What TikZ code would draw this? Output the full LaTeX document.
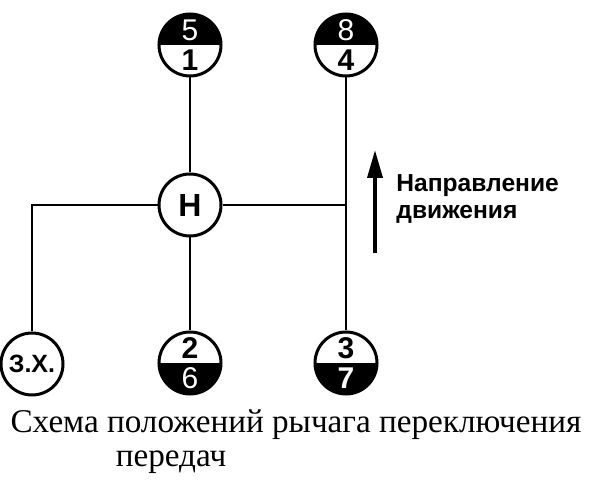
\documentclass[tikz,border=0pt]{standalone}
\usepackage{fontspec}
\setmainfont{Liberation Serif}
\setsansfont{Liberation Sans}
\usepackage{tikz}
\usetikzlibrary{calc,arrows.meta}
\tikzset{>=stealth}

\tikzset{
  gear/.style={circle, draw=black, line width=1.5pt, fill=white, minimum size=31pt, inner sep=0pt, font=\sffamily\bfseries\fontsize{12.5}{12.5}\selectfont},
  topblack/.style={gear, path picture={\fill[black] (path picture bounding box.west) rectangle (path picture bounding box.north east);}},
  botblack/.style={gear, path picture={\fill[black] (path picture bounding box.west) rectangle (path picture bounding box.south east);}},
  digit/.style={font=\sffamily\fontsize{15}{15}\selectfont, inner sep=0pt},
  bdigit/.style={font=\sffamily\bfseries\fontsize{15}{15}\selectfont, inner sep=0pt},
  rod/.style={line width=1.1pt},
}

\begin{document}
\begin{tikzpicture}[x=0.5pt, y=-0.5pt]

    \useasboundingbox (0,0) rectangle (596,492);

    % Gear positions
    \node[gear, font=\sffamily\bfseries\fontsize{16}{16}\selectfont] (n) at (190,205) {Н};  % neutral
    \node[topblack] (g51) at (190,45) {};              % 5 / 1
    \node[topblack] (g84) at (346,45) {};              % 8 / 4
    \node[botblack] (g26) at (190,363) {};             % 2 / 6
    \node[botblack] (g37) at (346,363) {};             % 3 / 7
    \node[gear] (zx) at (32,364) {З.Х.};               % reverse
    \coordinate (junc) at (346,205);

    % Numbers in the gear circles
    \node[digit, white] at ($(g51.center)+(0,-15)$) {5};
    \node[bdigit] at ($(g51.center)+(0,15)$) {1};
    \node[digit, white] at ($(g84.center)+(0,-15)$) {8};
    \node[bdigit] at ($(g84.center)+(0,15)$) {4};
    \node[bdigit] at ($(g26.center)+(0,-15)$) {2};
    \node[digit, white] at ($(g26.center)+(0,15)$) {6};
    \node[bdigit] at ($(g37.center)+(0,-15)$) {3};
    \node[bdigit, white] at ($(g37.center)+(0,15)$) {7};

    % Shift rods
    \draw[rod] (n) -- (g51);
    \draw[rod] (n) -- (g26);
    \draw[rod] (n) -- (junc);
    \draw[rod] (zx) |- (n);
    \draw[rod] (g84) -- (g37);

    % Direction of travel
    \coordinate (dtail) at (375,253);
    \coordinate (dhead) at (375,150);
    \draw[line width=1.8pt, -{Triangle[length=14pt, width=7.5pt]}] (dtail) -- (dhead);
    \node[anchor=west, align=left, inner sep=0pt, font=\sffamily\bfseries\fontsize{12.3}{13.8}\selectfont] (dir) at (396,199) {Направление\\движения};

    % Caption
    \node[font=\fontsize{16.6}{18}\selectfont, inner sep=0pt] (cap1) at (296,425) {Схема положений рычага переключения};
    \node[font=\fontsize{16.6}{18}\selectfont, inner sep=0pt] (cap2) at (171,462) {передач};

\end{tikzpicture}
\end{document}
